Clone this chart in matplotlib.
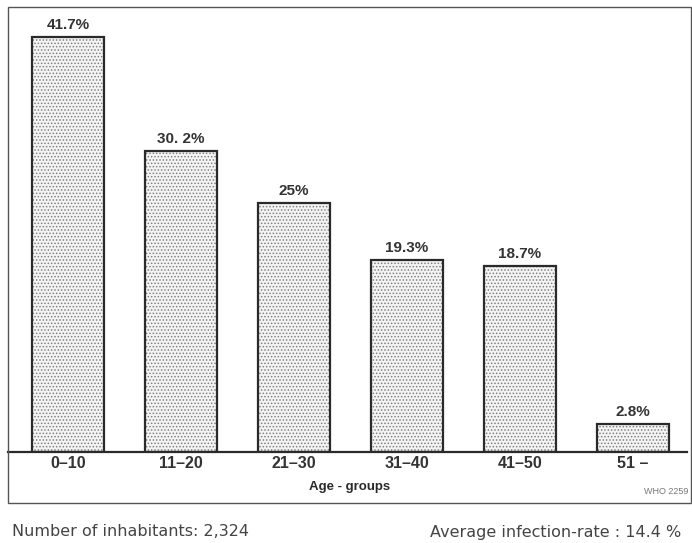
import matplotlib.pyplot as plt
from matplotlib.patches import Rectangle

groups = ["0\u201310", "11\u201320", "21\u201330", "31\u201340", "41\u201350", "51 \u2013"]
rates = [41.7, 30.2, 25.0, 19.3, 18.7, 2.8]
rate_labels = ["41.7%", "30. 2%", "25%", "19.3%", "18.7%", "2.8%"]

W, H = 692, 543
fig = plt.figure(figsize=(W / 100, H / 100), dpi=100)
fig.patch.set_facecolor("white")

ink = "#2a2a2a"
plt.rcParams["font.family"] = ["Liberation Sans", "DejaVu Sans"]

# outer frame
fig.add_artist(Rectangle((8 / W, 1 - 503 / H), (691 - 8) / W, (503 - 7) / H,
                         transform=fig.transFigure, fill=False, ec="#555555", lw=1.0))

# bar area: from frame top down to the baseline
ax = fig.add_axes([8 / W, 1 - 452 / H, (687 - 8) / W, (452 - 7) / H])
ax.set_xlim(-0.53, 5.48)
ax.set_ylim(0, 44.7)
for s in ["top", "right", "left"]:
    ax.spines[s].set_visible(False)
ax.spines["bottom"].set_color(ink)
ax.spines["bottom"].set_linewidth(1.6)

x = range(len(groups))
plt.rcParams["hatch.linewidth"] = 0.7
ax.bar(x, rates, width=0.64, color="#f4f4f4", edgecolor="#808080", hatch=".....", linewidth=0)
ax.bar(x, rates, width=0.64, fill=False, edgecolor=ink, linewidth=1.6)

for i, (v, lab) in enumerate(zip(rates, rate_labels)):
    ax.text(i, v + 0.5, lab, ha="center", va="bottom", fontsize=11, color="#333333",
            fontweight="bold")

ax.set_xticks(list(x))
ax.set_xticklabels(groups, fontsize=11.5, color="#333333", fontweight="bold")
ax.tick_params(axis="x", length=0, pad=3)
ax.set_yticks([])

fig.text(350 / W, 1 - 487 / H, "Age - groups", ha="center", va="center",
         fontsize=9.5, fontweight="bold", color=ink)
fig.text(688 / W, 1 - 492 / H, "WHO 2259", ha="right", va="center",
         fontsize=6.5, color="#777777")

fig.text(12 / W, 1 - 532 / H, "Number of inhabitants: 2,324", ha="left", va="center",
         fontsize=11.5, color="#444444", family="DejaVu Sans")
fig.text(681 / W, 1 - 532 / H, "Average infection-rate : 14.4 %", ha="right", va="center",
         fontsize=11.5, color="#444444", family="DejaVu Sans")

fig.savefig("out.png", dpi=100)
